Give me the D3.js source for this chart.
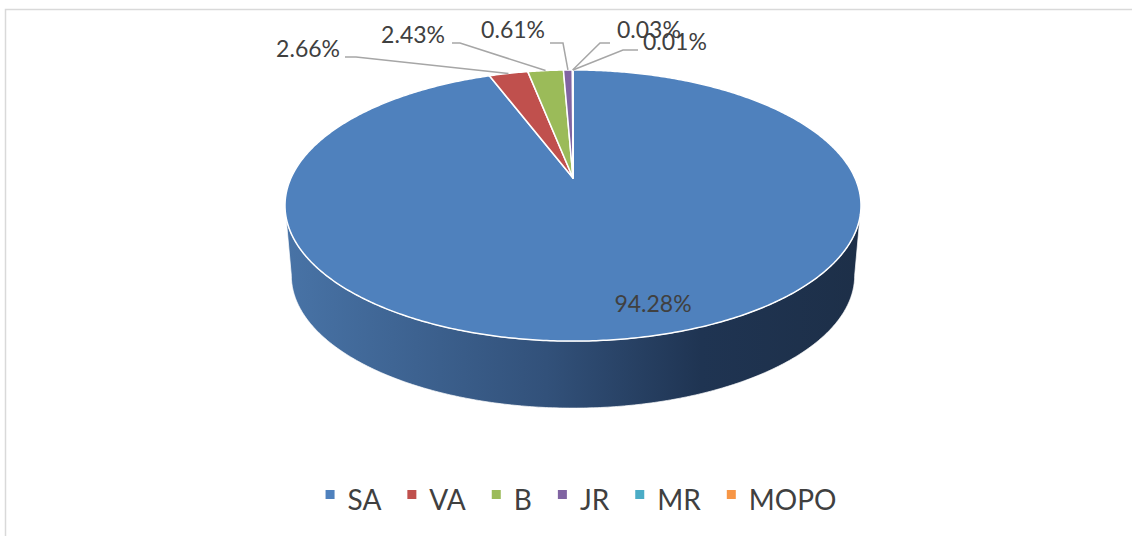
<!DOCTYPE html>
<html>
<head>
<meta charset="utf-8">
<script src="https://cdn.jsdelivr.net/npm/d3@7"></script>
<style>
  html, body { margin: 0; padding: 0; background: #fff; }
  svg { display: block; }
</style>
</head>
<body>
<svg id="chart" width="1132" height="536"></svg>
<script>
// data
var categories = ["SA", "VA", "B", "JR", "MR", "MOPO"];
var shares = [94.28, 2.66, 2.43, 0.61, 0.03, 0.01];
var colors = ["#4f81bd", "#c0504d", "#9bbb59", "#8064a2", "#4bacc6", "#f79646"];

// label layout: [x, baseline, anchor, elbowX, elbowY, lineEndX]
var labelLayout = [
  [653, 312, "middle", null, null, null],
  [340, 57, "end", 356, 57, 345],
  [445, 43, "end", 460, 43, 452],
  [545, 38, "end", 563, 43, 550],
  [617, 38, "start", 600, 43, 610],
  [643, 50, "start", 623, 50, 638]
];

var svg = d3.select("#chart");
var fmt = function(v) { return d3.format(".2f")(v) + "%"; };

// fake perspective of a tilted disc
var cx = 573, cy = 178, A = 282, B = 130, k = 0.203, depth = 70.6, shrink = 0.978;
function proj(a, bottom) {
  var u = Math.sin(a), v = -Math.cos(a);
  var w = 1 - k * v;
  var s = bottom ? shrink : 1;
  return [cx + s * A * u / w, cy + (bottom ? depth : 0) + s * B * v / w];
}
function arcPts(a0, a1, bottom) {
  var n = Math.max(2, Math.ceil((a1 - a0) / 0.01));
  return d3.range(n + 1).map(function(i) { return proj(a0 + (a1 - a0) * i / n, bottom); });
}

var arcs = d3.pie().sort(null).value(function(d) { return d; })(shares);
var line = d3.line();

// side gradient
var grad = svg.append("defs").append("linearGradient")
  .attr("id", "sideGrad")
  .attr("gradientUnits", "userSpaceOnUse")
  .attr("x1", 287).attr("x2", 863).attr("y1", 0).attr("y2", 0);
grad.append("stop").attr("offset", 0).attr("stop-color", "#4873a6");
grad.append("stop").attr("offset", 0.45).attr("stop-color", "#32517a");
grad.append("stop").attr("offset", 0.72).attr("stop-color", "#1f3452");
grad.append("stop").attr("offset", 1).attr("stop-color", "#1d2f48");

// visible (front) part of the wall
var front0 = Math.acos(-k), front1 = 2 * Math.PI - Math.acos(-k);
arcs.forEach(function(d) {
  var a0 = Math.max(d.startAngle, front0), a1 = Math.min(d.endAngle, front1);
  if (a1 <= a0) return;
  var pts = arcPts(a0, a1, false).concat(arcPts(a0, a1, true).reverse());
  svg.append("path")
    .attr("d", line(pts) + "Z")
    .attr("fill", "url(#sideGrad)")
    .attr("stroke", "#ffffff")
    .attr("stroke-opacity", 0.7)
    .attr("stroke-width", 1);
});

// top face slices
svg.append("g").selectAll("path")
  .data(arcs)
  .join("path")
  .attr("d", function(d) {
    return line([[cx, cy]].concat(arcPts(d.startAngle, d.endAngle, false))) + "Z";
  })
  .attr("fill", function(d, i) { return colors[i]; })
  .attr("stroke", "#ffffff")
  .attr("stroke-width", 1.5)
  .attr("stroke-linejoin", "round");

// leader lines
arcs.forEach(function(d, i) {
  var L = labelLayout[i];
  if (L[3] == null) return;
  var p = proj((d.startAngle + d.endAngle) / 2, false);
  svg.append("path")
    .attr("d", line([p, [L[3], L[4]], [L[5], L[4]]]))
    .attr("fill", "none")
    .attr("stroke", "#a6a6a6")
    .attr("stroke-width", 1.5);
});

// data labels
svg.append("g").selectAll("text")
  .data(shares)
  .join("text")
  .attr("x", function(d, i) { return labelLayout[i][0]; })
  .attr("y", function(d, i) { return labelLayout[i][1]; })
  .attr("text-anchor", function(d, i) { return labelLayout[i][2]; })
  .style("font", "23px Lato, sans-serif")
  .style("fill", "#404040")
  .text(fmt);

// legend
var legend = svg.append("g");
var xPos = 0;
categories.forEach(function(c, i) {
  var g = legend.append("g").attr("transform", "translate(" + xPos + ",0)");
  g.append("rect")
    .attr("x", 0).attr("y", 490)
    .attr("width", 9).attr("height", 9)
    .attr("fill", colors[i]);
  var t = g.append("text")
    .attr("x", 22).attr("y", 510)
    .style("font", "28px Lato, sans-serif")
    .style("fill", "#404040")
    .text(c);
  xPos += 22 + t.node().getComputedTextLength() + 26;
});
var legendW = xPos - 26;
legend.attr("transform", "translate(" + (581 - legendW / 2) + ",0)");

// chart frame
svg.append("rect")
  .attr("x", 5.5).attr("y", 9.5)
  .attr("width", 1200).attr("height", 600)
  .attr("fill", "none")
  .attr("stroke", "#d9d9d9")
  .attr("stroke-width", 1.5);
</script>
</body>
</html>
